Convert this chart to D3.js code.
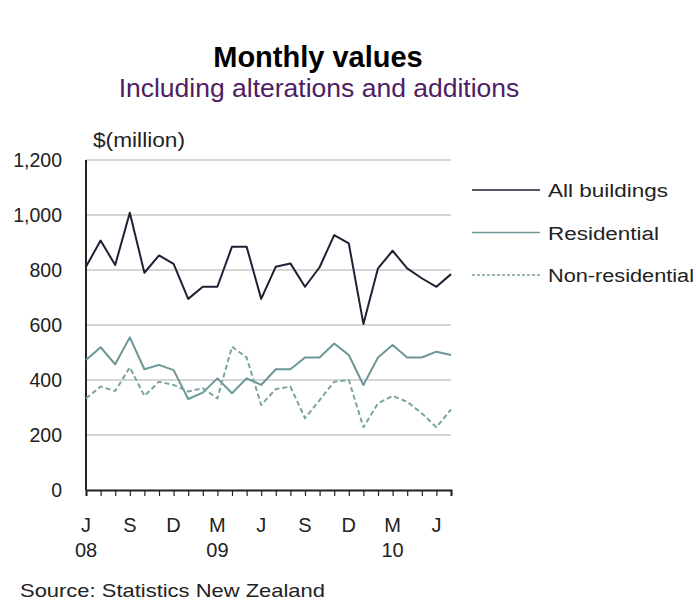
<!DOCTYPE html>
<html>
<head>
<meta charset="utf-8">
<script src="https://cdn.jsdelivr.net/npm/d3@7"></script>
<style>
  body { margin: 0; background: #fff; }
  svg { font-family: "Liberation Sans", Arial, sans-serif; }
</style>
</head>
<body>
<script>
//monthly values, Jun 2008 to Jul 2010 ($ million)
var months = ["Jun08","Jul08","Aug08","Sep08","Oct08","Nov08","Dec08","Jan09","Feb09","Mar09","Apr09","May09",
              "Jun09","Jul09","Aug09","Sep09","Oct09","Nov09","Dec09","Jan10","Feb10","Mar10","Apr10","May10","Jun10","Jul10"];
var allBuildings = [812, 907, 818, 1008, 790, 853, 822, 695, 739, 739, 885, 885,
                    695, 812, 824, 739, 810, 927, 897, 604, 806, 870, 806, 770, 739, 785];
var residential = [473, 519, 457, 555, 439, 455, 436, 331, 354, 406, 352, 406,
                   382, 439, 439, 482, 482, 533, 491, 382, 482, 527, 482, 482, 503, 491];
var nonResidential = [333, 376, 360, 446, 342, 394, 382, 358, 370, 333, 521, 482,
                      309, 367, 376, 261, 327, 394, 400, 228, 315, 342, 321, 279, 228, 293];
var seriesNames = ["All buildings", "Residential", "Non-residential"];
var yTicks = [0, 200, 400, 600, 800, 1000, 1200];
//month letter labels every 3 months, year label under the first month of each year shown
var xLabels = [{i: 0, m: "J", y: "08"}, {i: 3, m: "S"}, {i: 6, m: "D"}, {i: 9, m: "M", y: "09"},
               {i: 12, m: "J"}, {i: 15, m: "S"}, {i: 18, m: "D"}, {i: 21, m: "M", y: "10"}, {i: 24, m: "J"}];

var width = 696, height = 603;
var plotLeft = 86, plotRight = 451, plotTop = 160, plotBottom = 490;

var svg = d3.select("body").append("svg")
    .attr("width", width)
    .attr("height", height);

var x = d3.scaleLinear().domain([0, months.length - 1]).range([plotLeft, plotRight]);
var y = d3.scaleLinear().domain([0, 1200]).range([plotBottom, plotTop]);

//titles
svg.append("text")
    .attr("x", 318).attr("y", 67)
    .attr("text-anchor", "middle")
    .attr("font-weight", "bold")
    .attr("font-size", 29)
    .attr("fill", "#000")
    .text("Monthly values");
svg.append("text")
    .attr("x", 319).attr("y", 97)
    .attr("text-anchor", "middle")
    .attr("font-size", 26.5)
    .attr("fill", "#4e1d63")
    .text("Including alterations and additions");

svg.append("text")
    .attr("x", 93).attr("y", 147)
    .attr("font-size", 20)
    .attr("fill", "#222")
    .attr("textLength", 92)
    .attr("lengthAdjust", "spacingAndGlyphs")
    .text("$(million)");

//gridlines
svg.selectAll(".grid")
    .data(yTicks.filter(function(d){ return d > 0; }))
    .enter()
    .append("line")
    .attr("class", "grid")
    .attr("x1", plotLeft).attr("x2", plotRight)
    .attr("y1", function(d){ return y(d); })
    .attr("y2", function(d){ return y(d); })
    .attr("stroke", "#c8c8c8")
    .attr("stroke-width", 1.5);

//y axis labels
svg.selectAll(".ylab")
    .data(yTicks)
    .enter()
    .append("text")
    .attr("class", "ylab")
    .attr("x", 62)
    .attr("y", function(d){ return y(d) + 7; })
    .attr("text-anchor", "end")
    .attr("font-size", 19.5)
    .attr("fill", "#222")
    .text(function(d){ return d3.format(",")(d); });

//x axis with monthly ticks
var xAxis = d3.axisBottom(x)
    .tickValues(d3.range(months.length))
    .tickSize(6)
    .tickFormat("");
svg.append("g")
    .attr("transform", "translate(0," + plotBottom + ")")
    .call(xAxis)
    .call(function(g){
        g.select(".domain").attr("stroke", "#222").attr("stroke-width", 2);
        g.selectAll(".tick line").attr("stroke", "#222").attr("stroke-width", 1.2);
    });

svg.append("line")
    .attr("x1", plotLeft).attr("x2", plotLeft)
    .attr("y1", plotTop).attr("y2", plotBottom)
    .attr("stroke", "#222")
    .attr("stroke-width", 2);

svg.selectAll(".xlab")
    .data(xLabels)
    .enter()
    .append("text")
    .attr("class", "xlab")
    .attr("x", function(d){ return x(d.i); })
    .attr("y", 532)
    .attr("text-anchor", "middle")
    .attr("font-size", 20)
    .attr("fill", "#222")
    .text(function(d){ return d.m; });
svg.selectAll(".xyear")
    .data(xLabels.filter(function(d){ return d.y; }))
    .enter()
    .append("text")
    .attr("class", "xyear")
    .attr("x", function(d){ return x(d.i); })
    .attr("y", 557)
    .attr("text-anchor", "middle")
    .attr("font-size", 20)
    .attr("fill", "#222")
    .text(function(d){ return d.y; });

//lines
var line = d3.line()
    .x(function(d, i){ return x(i); })
    .y(function(d){ return y(d); });

var styles = [
    {data: allBuildings, color: "#1c2233", dash: null, w: 2, len: 120},
    {data: residential, color: "#6a9896", dash: null, w: 2, len: 111},
    {data: nonResidential, color: "#7aa3a1", dash: "5,3", w: 2, len: 146}
];

svg.selectAll(".series")
    .data(styles)
    .enter()
    .append("path")
    .attr("class", "series")
    .attr("d", function(d){ return line(d.data); })
    .attr("fill", "none")
    .attr("stroke", function(d){ return d.color; })
    .attr("stroke-width", function(d){ return d.w; })
    .attr("stroke-dasharray", function(d){ return d.dash; })
    .attr("stroke-linejoin", "round");

//legend
var legend = svg.selectAll(".legend")
    .data(styles)
    .enter()
    .append("g")
    .attr("class", "legend")
    .attr("transform", function(d, i){ return "translate(472," + (190 + i * 42.5) + ")"; });
legend.append("line")
    .attr("x1", 0).attr("x2", 68)
    .attr("stroke", function(d){ return d.color; })
    .attr("stroke-width", 1.5)
    .attr("stroke-dasharray", function(d){ return d.dash ? "3,2" : null; });
legend.append("text")
    .attr("x", 76).attr("y", 7)
    .attr("font-size", 18)
    .attr("fill", "#222")
    .attr("textLength", function(d){ return d.len; })
    .attr("lengthAdjust", "spacingAndGlyphs")
    .text(function(d, i){ return seriesNames[i]; });

//source
svg.append("text")
    .attr("x", 20).attr("y", 597)
    .attr("font-size", 19)
    .attr("fill", "#222")
    .attr("textLength", 305)
    .attr("lengthAdjust", "spacingAndGlyphs")
    .text("Source: Statistics New Zealand");
</script>
</body>
</html>
